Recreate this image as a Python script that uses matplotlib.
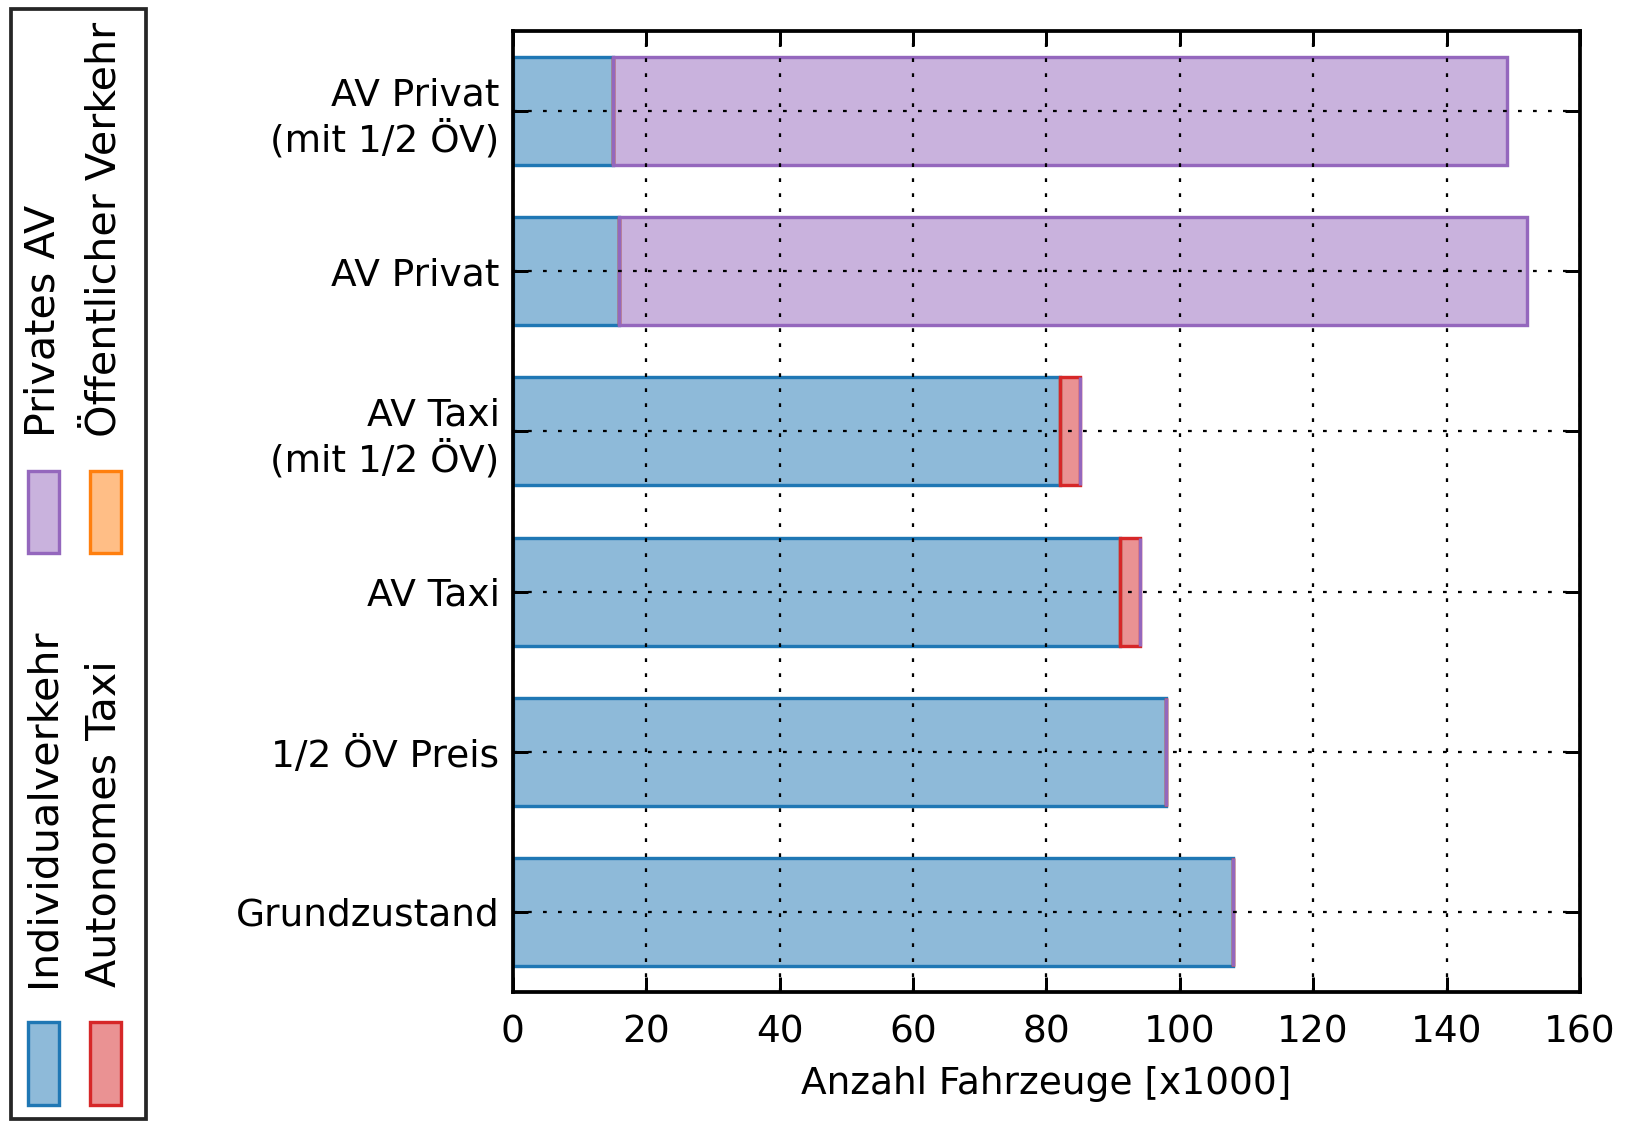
import matplotlib.pyplot as plt
from matplotlib.patches import Rectangle
import numpy as np

# scenarios, bottom to top
szenarien = ["Grundzustand", "1/2 ÖV Preis", "AV Taxi", "AV Taxi\n(mit 1/2 ÖV)",
             "AV Privat", "AV Privat\n(mit 1/2 ÖV)"]

# vehicle counts [x1000]
individualverkehr = [108, 98, 91, 82, 16, 15]
oeffentlicher_verkehr = [0, 0, 0, 0, 0, 0]
autonomes_taxi = [0, 0, 3, 3, 0, 0]
privates_av = [0, 0, 0, 0, 136, 134]

W, H, DPI = 1632, 1122, 270

plt.rcParams.update({
    "font.family": "DejaVu Sans",
    "font.size": 10,
    "axes.linewidth": 1.0,
    "lines.scale_dashes": False,
    "xtick.direction": "in",
    "ytick.direction": "in",
    "xtick.top": True,
    "ytick.right": True,
    "xtick.major.size": 4,
    "ytick.major.size": 4,
    "xtick.major.pad": 6,
    "ytick.major.pad": 3.5,
})

fig = plt.figure(figsize=(W / DPI, H / DPI), dpi=DPI)
ax = fig.add_axes([512.7 / W, 1 - 992 / H, (1580 - 512.7) / W, (992 - 31) / H])

serien = [
    ("Individualverkehr", individualverkehr, "#1f77b4"),
    ("Öffentlicher Verkehr", oeffentlicher_verkehr, "#ff7f0e"),
    ("Autonomes Taxi", autonomes_taxi, "#d62728"),
    ("Privates AV", privates_av, "#9467bd"),
]

y = np.arange(len(szenarien))
links = np.zeros(len(szenarien))
for name, werte, farbe in serien:
    ax.barh(y, werte, height=0.675, left=links, color=farbe, alpha=0.5,
            edgecolor="none", align="center", zorder=2)
    ax.barh(y, werte, height=0.675, left=links, facecolor="none",
            edgecolor=farbe, linewidth=0.9, align="center", zorder=2.5)
    links += np.array(werte)

ax.set_xlim(0, 160)
ax.set_ylim(-0.5, len(szenarien) - 0.5)
ax.set_yticks(y)
ax.set_yticklabels(szenarien)
ax.set_xticks(np.arange(0, 161, 20))
ax.set_xlabel("Anzahl Fahrzeuge [x1000]")
ax.grid(True, color="k", linestyle=(0, (1, 3)), linewidth=0.6, zorder=3)
ax.set_axisbelow(False)

# rotated legend, drawn by hand on the left side of the figure
def fx(px):
    return px / W

def fy(py):
    return 1 - py / H

fig.patches.append(Rectangle((fx(10.5), fy(1119)), fx(146) - fx(10.5), fy(8.5) - fy(1119),
                             transform=fig.transFigure, facecolor="white",
                             edgecolor="0.15", linewidth=1.0, zorder=1))

eintraege = [
    ("Individualverkehr", "#1f77b4", 43.5, 1022, 1105, 987),
    ("Autonomes Taxi", "#d62728", 105, 1022, 1105, 987),
    ("Privates AV", "#9467bd", 43.5, 471.5, 552.5, 437),
    ("Öffentlicher Verkehr", "#ff7f0e", 105, 471.5, 552.5, 437),
]
for name, farbe, xc, y0, y1, yt in eintraege:
    for fc, ec in ((farbe, "none"), ("none", farbe)):
        fig.patches.append(Rectangle((fx(xc - 15.5), fy(y1)), fx(31), fy(y0) - fy(y1),
                                     transform=fig.transFigure, facecolor=fc,
                                     alpha=0.5 if fc != "none" else 1.0,
                                     edgecolor=ec, linewidth=0.9, zorder=2))
    fig.text(fx(xc), fy(yt), name, rotation=90, ha="center", va="bottom",
             fontsize=11, zorder=3)

fig.savefig("out.png", dpi=DPI, facecolor="white")
